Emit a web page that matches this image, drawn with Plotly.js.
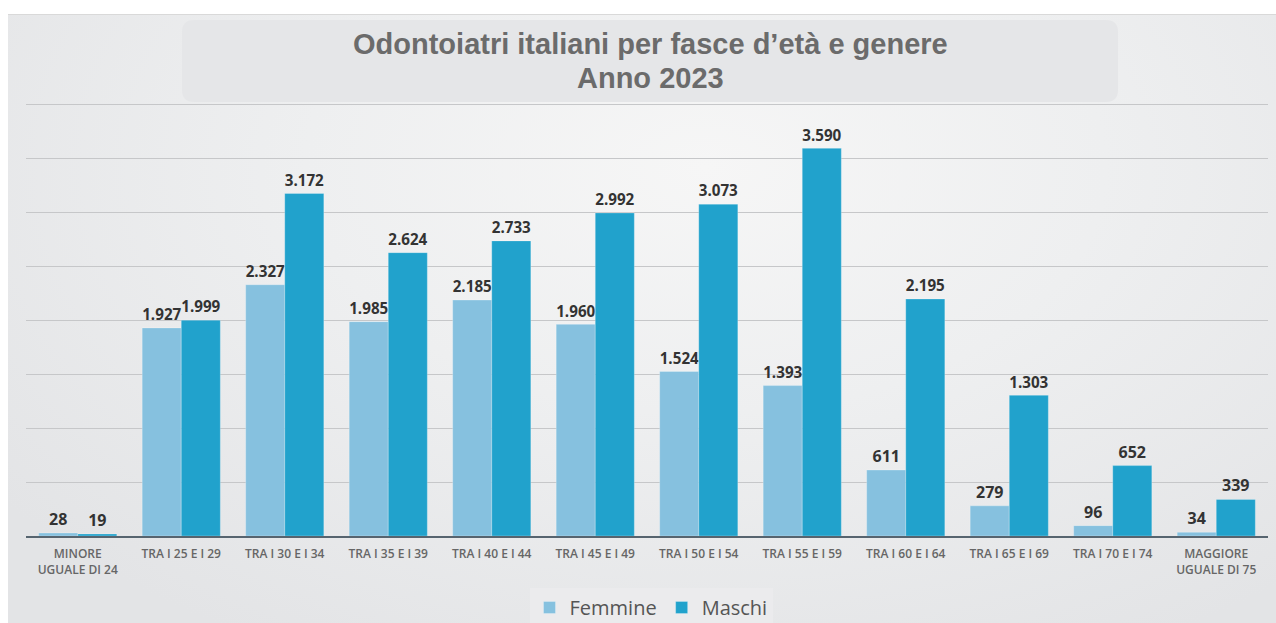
<!DOCTYPE html>
<html>
<head>
<meta charset="utf-8">
<script src="https://cdn.plot.ly/plotly-3.0.1.min.js"></script>
<style>
  html, body { margin: 0; padding: 0; background: #ffffff; }
  #wrap { position: relative; width: 1276px; height: 623px; overflow: hidden; background: #ffffff; }
  #bg { position: absolute; left: 8px; top: 14px; right: 0; bottom: 0;
        background: radial-gradient(ellipse 70% 90% at 55% 25%, #f6f6f6 0%, #eeeff0 45%, #e3e4e6 100%);
        border-top: 1px solid #d9d9d9; }
  #chart { position: absolute; left: 0; top: 0; width: 1276px; height: 623px; }
</style>
</head>
<body>
<div id="wrap">
  <div id="bg"></div>
  <div id="chart"></div>
</div>
<script>
const categories = [
  "MINORE<br>UGUALE DI 24",
  "TRA I 25 E I 29",
  "TRA I 30 E I 34",
  "TRA I 35 E I 39",
  "TRA I 40 E I 44",
  "TRA I 45 E I 49",
  "TRA I 50 E I 54",
  "TRA I 55 E I 59",
  "TRA I 60 E I 64",
  "TRA I 65 E I 69",
  "TRA I 70 E I 74",
  "MAGGIORE<br>UGUALE DI 75"
];
const femmine = [28, 1927, 2327, 1985, 2185, 1960, 1524, 1393, 611, 279, 96, 34];
const maschi  = [19, 1999, 3172, 2624, 2733, 2992, 3073, 3590, 2195, 1303, 652, 339];
const titleLine1 = "Odontoiatri italiani per fasce d\u2019età e genere";
const titleLine2 = "Anno 2023";

const W = 1276, H = 623;
const mL = 26, mR = 8, mT = 103, mB = 87;
const pw = W - mL - mR, ph = H - mT - mB;
const fx = px => (px - mL) / pw;
const fy = py => (H - mB - py) / ph;

function roundedRect(x0, y0, x1, y1, r) {
  const X0 = fx(x0), X1 = fx(x1), Y0 = fy(y0), Y1 = fy(y1);
  const rx = r / pw, ry = r / ph;
  return `M${X0 + rx},${Y0} L${X1 - rx},${Y0} Q${X1},${Y0} ${X1},${Y0 - ry} ` +
         `L${X1},${Y1 + ry} Q${X1},${Y1} ${X1 - rx},${Y1} L${X0 + rx},${Y1} ` +
         `Q${X0},${Y1} ${X0},${Y1 + ry} L${X0},${Y0 - ry} Q${X0},${Y0} ${X0 + rx},${Y0} Z`;
}

const labelFont = { family: "'Open Sans', 'DejaVu Sans', sans-serif", size: 16, color: "#333333", weight: 700 };
const titleFont = { family: "'Liberation Sans', Arial, sans-serif", size: 29, color: "#6b6b6b", weight: 700 };

const traces = [
  {
    type: "bar", name: "Femmine", x: categories, y: femmine,
    marker: { color: "#86c1df", line: { color: "rgba(255,255,255,0.5)", width: 0.5 } },
    texttemplate: "%{y:,}", textposition: "outside", textfont: labelFont,
    cliponaxis: false, hoverinfo: "x+y"
  },
  {
    type: "bar", name: "Maschi", x: categories, y: maschi,
    marker: { color: "#21a2cc", line: { color: "rgba(255,255,255,0.5)", width: 0.5 } },
    texttemplate: "%{y:,}", textposition: "outside", textfont: labelFont,
    cliponaxis: false, hoverinfo: "x+y"
  }
];

const layout = {
  width: W, height: H,
  margin: { l: mL, r: mR, t: mT, b: mB, pad: 0, autoexpand: false },
  paper_bgcolor: "rgba(0,0,0,0)",
  plot_bgcolor: "rgba(0,0,0,0)",
  separators: ",.",
  barmode: "group",
  bargap: 0.245,
  bargroupgap: 0.0,
  showlegend: true,
  legend: {
    orientation: "h", x: fx(651), xanchor: "center", y: fy(588), yanchor: "top",
    bgcolor: "#ebebed", font: { family: "'Open Sans', 'DejaVu Sans', sans-serif", size: 20, color: "#555555" },
    itemwidth: 30, traceorder: "normal"
  },
  xaxis: {
    type: "category",
    showline: true, linecolor: "#56646f", linewidth: 2,
    ticks: "", showgrid: false, ticklabelstandoff: 6,
    tickfont: { family: "'Open Sans', 'DejaVu Sans', sans-serif", size: 12, color: "#666666", weight: 600 },
    automargin: false
  },
  yaxis: {
    range: [0, 4010], tick0: 0, dtick: 500, showticklabels: false, showgrid: true,
    gridcolor: "#c6c7c9", gridwidth: 1, zeroline: false, showline: false, ticks: "",
    automargin: false, fixedrange: true
  },
  shapes: [
    {
      type: "path", xref: "paper", yref: "paper", layer: "below",
      path: roundedRect(182, 20, 1118, 102, 12),
      fillcolor: "#e5e6e8", line: { width: 0 }
    }
  ],
  annotations: [
    {
      xref: "paper", yref: "paper", x: fx(650), y: fy(44), xanchor: "center", yanchor: "middle",
      text: titleLine1, showarrow: false, font: titleFont
    },
    {
      xref: "paper", yref: "paper", x: fx(650), y: fy(78), xanchor: "center", yanchor: "middle",
      text: titleLine2, showarrow: false, font: titleFont
    }
  ]
};

Plotly.newPlot("chart", traces, layout, { displayModeBar: false, staticPlot: true });
</script>
</body>
</html>
